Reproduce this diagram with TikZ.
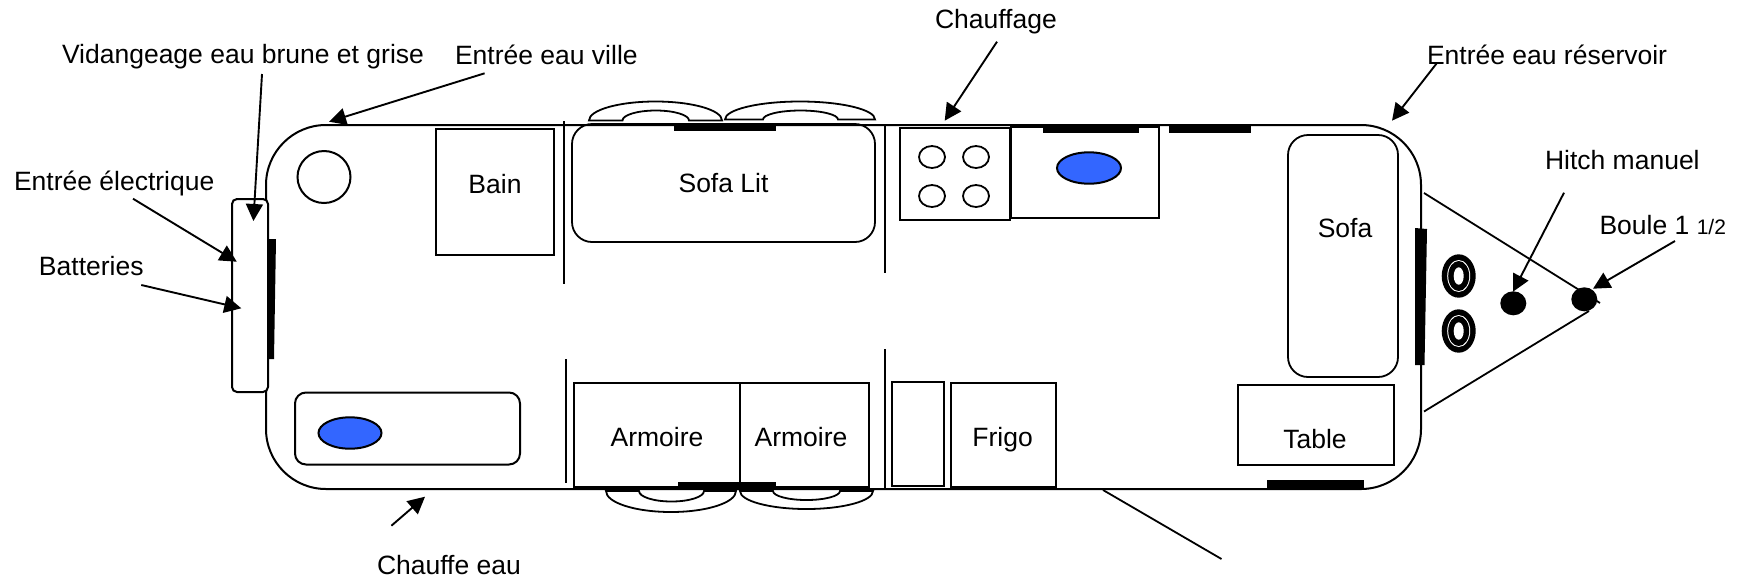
\documentclass[tikz,border=0pt]{standalone}
\usepackage{fontspec}
\setmainfont{Liberation Sans}
\usetikzlibrary{arrows.meta}

\begin{document}
\begin{tikzpicture}[x=.5pt, y=-.5pt, line width=1pt,
	lbl/.style={inner sep=0, outer sep=0, font=\fontsize{13.25}{16}\selectfont},
	txt/.style={lbl, anchor=base west},
	inbox/.style={lbl, anchor=base},
	thin line/.style={line width=.9pt},
	ptr/.style={line width=.95pt, -{Triangle[length=8.5pt, width=8.5pt]}},
	bar/.style={fill=black, draw=none},
	water/.style={draw, fill=sinkblue},
	door/.style={draw, fill=white, line width=.9pt}]
	\definecolor{sinkblue}{RGB}{51,102,255}
	\useasboundingbox (0,0) rectangle (1740,580);

	\draw[rounded corners=30pt] (266,125) rectangle (1421,489);
	\draw[fill=white, rounded corners=2.5pt] (232,199) rectangle (268,392);
	\draw (324,177) ellipse [x radius=26.5, y radius=26];

	\draw[thin line] (564,121) -- (564,284);
	\draw[thin line] (885,126) -- (885,273);
	\draw[thin line] (566,359) -- (566,483);
	\draw[thin line] (885,349) -- (885,489);

	\draw (436,129) rectangle (554,255);
	\draw[thin line, rounded corners=10pt] (572,124) rectangle (875,242);
	\draw (900,128) rectangle (1010,220);
	\draw (1011,127) rectangle (1159,218);
	\draw[thin line, rounded corners=10pt] (1288,135) rectangle (1398,377);
	\draw (1238,385) rectangle (1394,464.5);
	\draw (951,383) rectangle (1056,487);
	\draw (892,381.5) rectangle (944,485.5);
	\draw (574,383) rectangle (740,487);
	\draw (740,383) rectangle (869,487);
	\draw[rounded corners=5.5pt] (295,392.5) rectangle (520,464.5);

	\foreach \bx in {932,976}
		\foreach \by in {157,196}
			\draw[thin line] (\bx,\by) ellipse [x radius=13, y radius=11];
	\draw[water] (1089,168) ellipse [x radius=32, y radius=15.7];
	\draw[water] (350,433) ellipse [x radius=31.5, y radius=15.7];

	\draw[door] (589,120.5) arc [x radius=66.5, y radius=19, start angle=180, end angle=360]
		-- (689,120.5) arc [x radius=33.25, y radius=10, start angle=360, end angle=180] -- cycle;
	\draw[door] (725,119.5) arc [x radius=75, y radius=18, start angle=180, end angle=360]
		-- (838,119.5) arc [x radius=37.5, y radius=9, start angle=360, end angle=180] -- cycle;
	\draw[door] (606,491) arc [x radius=65, y radius=21, start angle=180, end angle=0]
		-- (704,491) arc [x radius=32.5, y radius=10.5, start angle=0, end angle=180] -- cycle;
	\draw[door] (740,491) arc [x radius=66.5, y radius=18, start angle=180, end angle=0]
		-- (840,491) arc [x radius=33.5, y radius=9, start angle=0, end angle=180] -- cycle;

	\fill[bar] (268,239) -- (276,239) -- (274,359) -- (267,359) -- cycle;
	\fill[bar] (1415,228) -- (1427,229) -- (1424.5,365) -- (1415,365) -- cycle;
	\fill[bar] (674,123) rectangle (776,131);
	\fill[bar] (1043,125) rectangle (1139,133);
	\fill[bar] (1168.5,125) rectangle (1250.5,133);
	\fill[bar] (678,481.5) rectangle (776,489.5);
	\fill[bar] (1267,479.5) rectangle (1364,487.5);

	\foreach \ty in {276,331} {
		\fill (1458.7,\ty) ellipse [x radius=17, y radius=21.7];
		\fill[white] (1458.7,\ty) ellipse [x radius=11.5, y radius=16];
		\fill (1458.7,\ty) ellipse [x radius=10.5, y radius=15];
		\fill[white] (1458.7,\ty) ellipse [x radius=5, y radius=8.7];
	}
	\coordinate (hitch_top) at (1424,193);
	\coordinate (hitch_low) at (1424,411.5);
	\coordinate (hitch_tip) at (1600,303);
	\coordinate (hitch_end) at (1589,311);
	\draw[thin line] (hitch_top) -- (hitch_tip);
	\draw[thin line] (hitch_low) -- (hitch_end);
	\fill (1513.3,303.3) ellipse [x radius=13, y radius=12];
	\fill (1584.3,299.3) ellipse [x radius=13, y radius=12];

	\node[inbox] (bain) at (495,193.7) {Bain};
	\node[inbox] (sofalit) at (723.5,192.7) {Sofa Lit};
	\node[inbox] (sofa) at (1345,237) {Sofa};
	\node[inbox] (armoire1) at (657,446) {Armoire};
	\node[inbox] (armoire2) at (801,446) {Armoire};
	\node[inbox] (frigo) at (1002.6,446) {Frigo};
	\node[inbox] (table) at (1315,448.5) {Table};

	\node[txt] (vidange) at (62,63) {Vidangeage eau brune et grise};
	\node[txt] (ville) at (455,64.5) {Entrée eau ville};
	\node[txt] (chauffage) at (935,28.5) {Chauffage};
	\node[txt] (reservoir) at (1427,64.5) {Entrée eau réservoir};
	\node[txt] (electrique) at (14,190.5) {Entrée électrique};
	\node[txt] (batteries) at (39,275) {Batteries};
	\node[txt] (hitch) at (1545,169.5) {Hitch manuel};
	\node[txt] (boule) at (1599.5,234.5) {Boule 1 {\fontsize{10.5}{12}\selectfont 1/2}};
	\node[txt] (chauffeeau) at (377,574) {Chauffe eau};

	\coordinate (vidange_a) at (262,74);
	\coordinate (vidange_b) at (253.4,221);
	\coordinate (ville_a) at (484.6,73.3);
	\coordinate (ville_b) at (329,121.7);
	\coordinate (chauffage_a) at (997,41.7);
	\coordinate (chauffage_b) at (944.7,120.7);
	\coordinate (reservoir_a) at (1436.7,63.3);
	\coordinate (reservoir_b) at (1392,120.7);
	\coordinate (electrique_a) at (133,198.7);
	\coordinate (electrique_b) at (236.8,261.7);
	\coordinate (batteries_a) at (141.3,285);
	\coordinate (batteries_b) at (241.3,308.3);
	\coordinate (hitch_a) at (1564,192.7);
	\coordinate (hitch_b) at (1513,291.7);
	\coordinate (boule_a) at (1675,241);
	\coordinate (boule_b) at (1593,288.7);
	\coordinate (chauffeeau_a) at (391.4,525.7);
	\coordinate (chauffeeau_b) at (425,496.7);
	\coordinate (step_a) at (1103,490);
	\coordinate (step_b) at (1221.5,559);

	\draw[ptr] (vidange_a) -- (vidange_b);
	\draw[ptr] (ville_a) -- (ville_b);
	\draw[ptr] (chauffage_a) -- (chauffage_b);
	\draw[ptr] (reservoir_a) -- (reservoir_b);
	\draw[ptr] (electrique_a) -- (electrique_b);
	\draw[ptr] (batteries_a) -- (batteries_b);
	\draw[ptr] (hitch_a) -- (hitch_b);
	\draw[ptr] (boule_a) -- (boule_b);
	\draw[ptr] (chauffeeau_a) -- (chauffeeau_b);
	\draw[thin line] (step_a) -- (step_b);
\end{tikzpicture}
\end{document}
